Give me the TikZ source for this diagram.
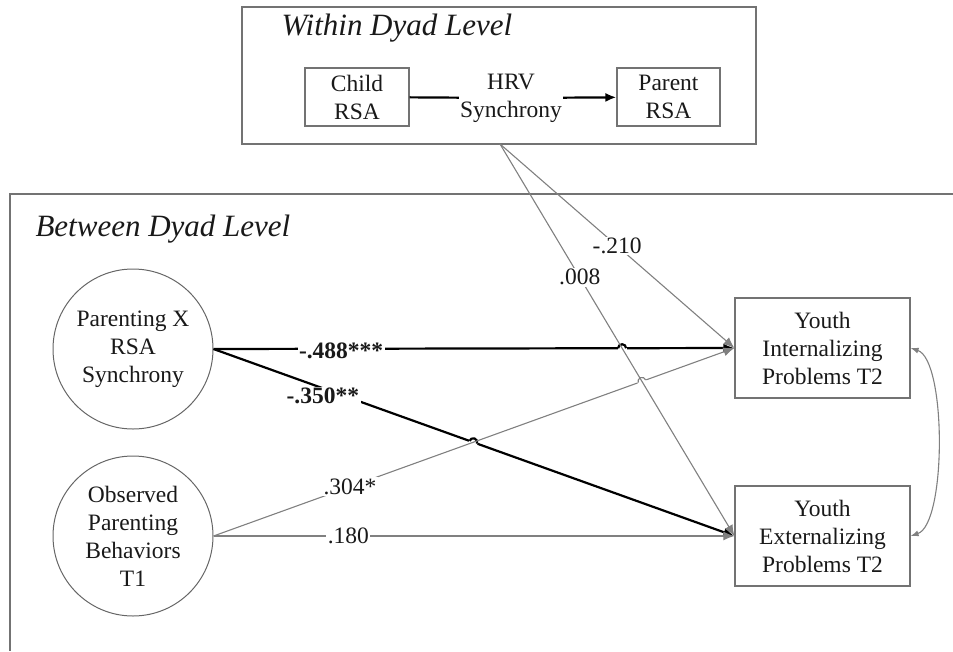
\documentclass[tikz,border=0pt]{standalone}
\usepackage{fontspec}
\setmainfont{Liberation Serif}
\usetikzlibrary{arrows.meta,intersections,calc}
\begin{document}
\begin{tikzpicture}[x=1pt,y=-1pt,
  every node/.style={font=\fontsize{23.5}{28}\selectfont, text=black!90},
  frame/.style={draw=black!55, line width=1.2pt},
  rbox/.style={draw=black!55, line width=1.2pt, align=center, minimum width=104pt, minimum height=58pt, inner sep=0pt},
  ybox/.style={draw=black!55, line width=1.2pt, align=center, minimum width=175pt, minimum height=100pt, inner sep=0pt},
  latent/.style={circle, draw=black!60, line width=1pt, align=center, minimum size=160pt, inner sep=0pt},
  strong/.style={draw=black, line width=2.2pt},
  weak/.style={draw=black!50, line width=1.1pt},
  tip/.style={-{Latex[length=11pt,width=9pt]}},
  coef/.style={fill=white, inner sep=1.5pt},
  title/.style={font=\fontsize{31}{36}\selectfont\itshape, anchor=base west},
]
\useasboundingbox (0,0) rectangle (953,651);

% frames
\draw[frame] (242,7) rectangle (756,144);
\draw[frame] (953,194) -- (10,194) -- (10,651);
\coordinate (hrvout) at (500,144);

\node[title] (wtitle) at (278,35) {Within Dyad Level};
\node[title] (btitle) at (32,236) {Between Dyad Level};

% within level
\node[rbox] (child) at (357,97) {Child\\RSA};
\node[rbox, minimum width=103pt] (parent) at (668.5,97) {Parent\\RSA};
\node[align=center, inner sep=1pt] (hrv) at (511,98) {HRV\\Synchrony};
\draw[strong] (child) -- (hrv);
\draw[strong, tip] (hrv) -- (parent);

% between level
\node[latent] (pxr) at (133,349) {Parenting X\\RSA\\Synchrony};
\node[latent] (obs) at (133,536) {Observed\\Parenting\\Behaviors\\T1};
\node[ybox] (int) at (822.5,348) {Youth\\Internalizing\\Problems T2};
\node[ybox] (ext) at (822.5,536) {Youth\\Externalizing\\Problems T2};

% crossing points
\path[name path=l008] (hrvout) -- (ext.west);
\path[name path=l304] (obs.east) -- (int.west);
\path[name path=l488] (pxr.east) -- (int.west);
\path[name path=l350] (pxr.east) -- (ext.west);
\path[name intersections={of=l008 and l488, by=h1}];
\path[name intersections={of=l304 and l350, by=h2}];
\path[name intersections={of=l008 and l304, by=h3}];

% strong paths
\draw[strong, tip] (pxr.east) -- (int.west)
  node[coef, pos=0.245, yshift=-2pt] (c488) {\bfseries -.488***};
\draw[strong, tip] (pxr.east) -- (ext.west)
  node[coef, pos=0.21, yshift=-8pt] (c350) {\bfseries -.350**};

% hops on strong paths
\begin{scope}[shift={(h1)}]
  \draw[white, line width=4pt] (-4.5pt,0pt) -- (4.5pt,0pt);
  \draw[strong] (-4pt,0pt) arc[start angle=180, end angle=0, radius=4pt];
\end{scope}
\begin{scope}[shift={(h2)}, rotate=-19.3]
  \draw[white, line width=4pt] (-4.5pt,0pt) -- (4.5pt,0pt);
  \draw[strong] (-4pt,0pt) arc[start angle=180, end angle=0, radius=4pt];
\end{scope}

% weak paths
\draw[weak, tip] (obs.east) -- (int.west)
  node[coef, pos=0.262] (c304) {.304*};
\begin{scope}[shift={(h3)}, rotate=19.7]
  \draw[white, line width=3pt] (-4.5pt,0pt) -- (4.5pt,0pt);
  \draw[weak] (-4pt,0pt) arc[start angle=180, end angle=0, radius=4pt];
\end{scope}
\draw[weak, tip] (hrvout) -- (ext.west)
  node[coef, pos=0.34] (c008) {.008};
\draw[weak, tip] (hrvout) -- (int.west)
  node[coef, pos=0.5] (c210) {-.210};
\draw[weak, tip] (obs.east) -- (ext.west)
  node[coef, pos=0.259] (c180) {.180};

% residual covariance
\draw[weak, {Latex[length=8pt,width=6pt]}-{Latex[length=8pt,width=6pt]}]
  (int.east) .. controls +(36,12) and +(36,-12) .. (ext.east);
\end{tikzpicture}
\end{document}
